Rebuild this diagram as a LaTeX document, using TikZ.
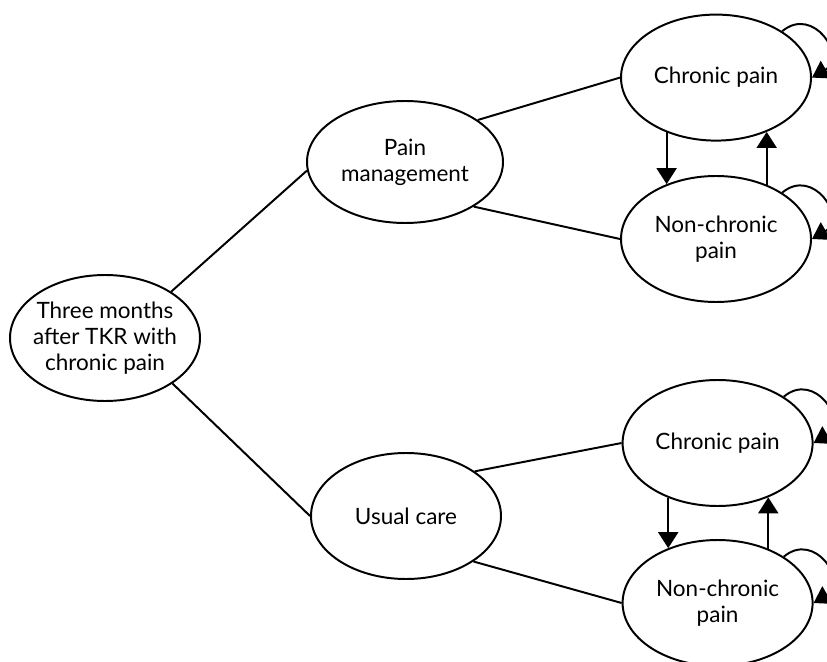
\documentclass[tikz,border=0pt]{standalone}
\usepackage{fontspec}
\setmainfont{Lato}
\usetikzlibrary{shapes.geometric, arrows.meta}
\tikzset{
  state/.style={draw, ellipse, line width=1.4pt, inner sep=-4mm,
    minimum width=4.75cm, minimum height=3.15cm, align=center,
    font=\fontsize{16}{18.5}\selectfont},
  link/.style={line width=1.4pt},
  trans/.style={line width=1.4pt, -{Triangle[width=5mm,length=4mm]}}
}
\begin{document}
\begin{tikzpicture}
\useasboundingbox (0,0) rectangle (20.675,-16.55);
\clip (0,0) rectangle (20.675,-16.55);

\path (2.625,-8.45) node[state] (start) {Three months\\after TKR with\\chronic pain}
		(10.125,-4.05) node[state, minimum width=4.9cm, minimum height=3.05cm] (pm) {Pain\\management}
		(10.15,-12.9) node[state] (uc) {Usual care}
		(17.9,-1.94) node[state] (cp1) {Chronic pain}
		(17.9,-5.975) node[state] (ncp1) {Non-chronic\\pain}
		(17.94,-11.075) node[state] (cp2) {Chronic pain}
		(17.94,-15.075) node[state] (ncp2) {Non-chronic\\pain}
;

\draw[link] (node cs:name=start, angle=35) -- (node cs:name=pm, angle=185);
\draw[link] (node cs:name=start, angle=-34) -- (node cs:name=uc, anchor=west);
\draw[link] (node cs:name=pm, angle=30) -- (node cs:name=cp1, anchor=west);
\draw[link] (node cs:name=pm, angle=-33) -- (node cs:name=ncp1, anchor=west);
\draw[link] (node cs:name=uc, angle=33) -- (node cs:name=cp2, anchor=west);
\draw[link] (node cs:name=uc, angle=-34) -- (node cs:name=ncp2, anchor=west);

% moves between the two states
\draw[trans] (node cs:name=cp1, angle=-132.5) -- (node cs:name=ncp1, angle=132.5);
\draw[trans] (node cs:name=ncp1, angle=47.5) -- (node cs:name=cp1, angle=-47.5);
\draw[trans] (node cs:name=cp2, angle=-132.5) -- (node cs:name=ncp2, angle=132.5);
\draw[trans] (node cs:name=ncp2, angle=47.5) -- (node cs:name=cp2, angle=-47.5);

% staying in the same state
\draw[trans] (node cs:name=cp1, angle=35) to[out=40, in=30, looseness=1.9] (node cs:name=cp1, anchor=east);
\draw[trans] (node cs:name=ncp1, angle=35) to[out=40, in=30, looseness=1.9] (node cs:name=ncp1, anchor=east);
\draw[trans] (node cs:name=cp2, angle=35) to[out=40, in=30, looseness=1.9] (node cs:name=cp2, anchor=east);
\draw[trans] (node cs:name=ncp2, angle=35) to[out=40, in=30, looseness=1.9] (node cs:name=ncp2, anchor=east);

\end{tikzpicture}
\end{document}
